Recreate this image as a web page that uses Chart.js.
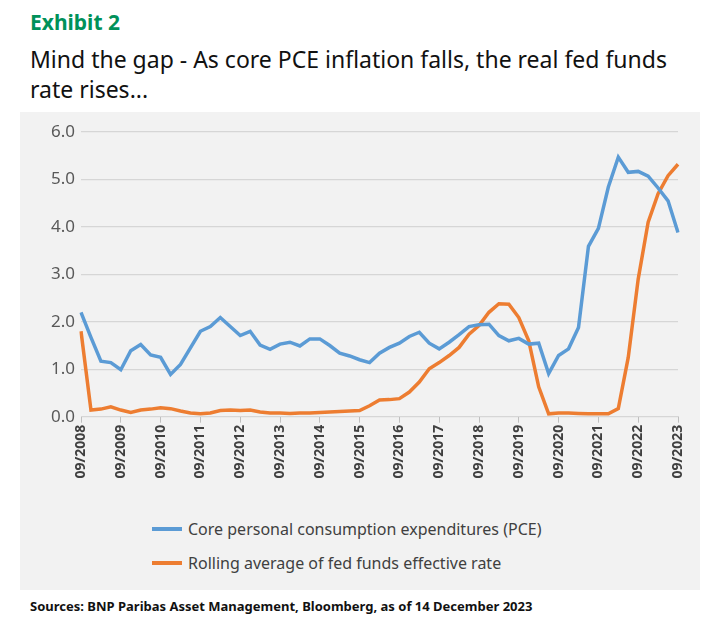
<!DOCTYPE html>
<html>
<head>
<meta charset="utf-8">
<script src="https://cdn.jsdelivr.net/npm/chart.js@4"></script>
<style>
  body { margin: 0; background: #fff; font-family: "Noto Sans", sans-serif; width: 725px; height: 627px; position: relative; overflow: hidden; }
  #exhibit { position: absolute; left: 30px; top: 8px; font-size: 21px; font-weight: bold; color: #00915a; }
  #title { position: absolute; left: 30px; top: 44px; font-size: 23px; line-height: 30px; color: #111; width: 660px; }
  #panel { position: absolute; left: 20px; top: 112px; width: 680px; height: 478px; background: #f2f2f2; }
  #wrap { position: absolute; left: 0; top: 0; width: 680px; height: 372px; }
  .leg { position: absolute; left: 132px; font-size: 16px; color: #404040; display: flex; align-items: center; }
  .leg span.sw { display: inline-block; width: 30px; height: 4px; margin-right: 6px; }
  #source { position: absolute; left: 30px; top: 597px; font-size: 13px; font-weight: bold; color: #111; }
</style>
</head>
<body>
<div id="exhibit">Exhibit 2</div>
<div id="title">Mind the gap - As core PCE inflation falls, the real fed funds rate rises...</div>
<div id="panel">
  <div id="wrap"><canvas id="c"></canvas></div>
  <div class="leg" style="top:406px"><span class="sw" style="background:#5b9bd5"></span>Core personal consumption expenditures (PCE)</div>
  <div class="leg" style="top:440px"><span class="sw" style="background:#ed7d31"></span>Rolling average of fed funds effective rate</div>
</div>
<div id="source">Sources: BNP Paribas Asset Management, Bloomberg, as of 14 December 2023</div>
<script>
// quarterly points, 09/2008 .. 09/2023
const quarterLabels = [];
for (let y = 2008; y <= 2023; y++) {
  ['09', '12', '03', '06'].forEach((m, i) => {
    const yr = i === 0 || i === 1 ? y : y + 1;
    if (quarterLabels.length < 61) quarterLabels.push(m + '/' + yr);
  });
}

const corePce = [2.20, 1.67, 1.17, 1.14, 0.99, 1.39, 1.52, 1.30, 1.25, 0.89,
  1.10, 1.45, 1.80, 1.90, 2.09, 1.90, 1.71, 1.80, 1.51, 1.42,
  1.53, 1.57, 1.49, 1.64, 1.64, 1.50, 1.34, 1.28, 1.20, 1.14,
  1.34, 1.46, 1.55, 1.69, 1.78, 1.55, 1.43, 1.57, 1.73, 1.90,
  1.94, 1.95, 1.71, 1.60, 1.65, 1.53, 1.55, 0.91, 1.29, 1.43,
  1.88, 3.59, 3.97, 4.84, 5.47, 5.15, 5.17, 5.07, 4.82, 4.55, 3.88];

const fedFunds = [1.80, 0.14, 0.16, 0.21, 0.14, 0.09, 0.14, 0.16, 0.19, 0.17,
  0.12, 0.08, 0.06, 0.08, 0.13, 0.14, 0.13, 0.14, 0.10, 0.08,
  0.08, 0.07, 0.08, 0.08, 0.09, 0.10, 0.11, 0.12, 0.13, 0.23,
  0.35, 0.36, 0.38, 0.52, 0.73, 1.01, 1.14, 1.29, 1.46, 1.74,
  1.92, 2.20, 2.38, 2.37, 2.09, 1.60, 0.63, 0.06, 0.08, 0.08,
  0.07, 0.06, 0.06, 0.06, 0.17, 1.25, 2.90, 4.10, 4.70, 5.08, 5.32];

new Chart(document.getElementById('c'), {
  type: 'line',
  data: {
    labels: quarterLabels,
    datasets: [
      { data: corePce, borderColor: '#5b9bd5', borderWidth: 3.5, pointRadius: 0, tension: 0 },
      { data: fedFunds, borderColor: '#ed7d31', borderWidth: 3.5, pointRadius: 0, tension: 0 }
    ]
  },
  options: {
    responsive: true,
    maintainAspectRatio: false,
    animation: false,
    layout: { padding: { top: 20, right: 22, bottom: 0, left: 0 } },
    plugins: { legend: { display: false }, tooltip: { enabled: false } },
    scales: {
      y: {
        min: 0, max: 6,
        ticks: { stepSize: 1, color: '#595959', font: { family: 'Noto Sans', size: 17 }, callback: v => v.toFixed(1), padding: 6 },
        grid: { color: '#d6d6d6', drawTicks: false, lineWidth: 1.3 },
        border: { display: false },
        afterFit: s => { s.width = 61; }
      },
      x: {
        offset: false,
        ticks: {
          autoSkip: false, maxRotation: 90, minRotation: 90, padding: 2,
          color: '#404040', font: { family: 'Noto Sans', size: 14, weight: 'bold' },
          callback: function (v, i) { return i % 4 === 0 ? this.getLabelForValue(v) : ''; }
        },
        grid: {
          drawOnChartArea: false, tickLength: 6,
          color: ctx => (ctx.index % 4 === 0 ? '#bfbfbf' : 'rgba(0,0,0,0)')
        },
        border: { color: '#d6d6d6' },
        afterFit: s => { s.height = 67.3; }
      }
    }
  }
});
</script>
</body>
</html>
